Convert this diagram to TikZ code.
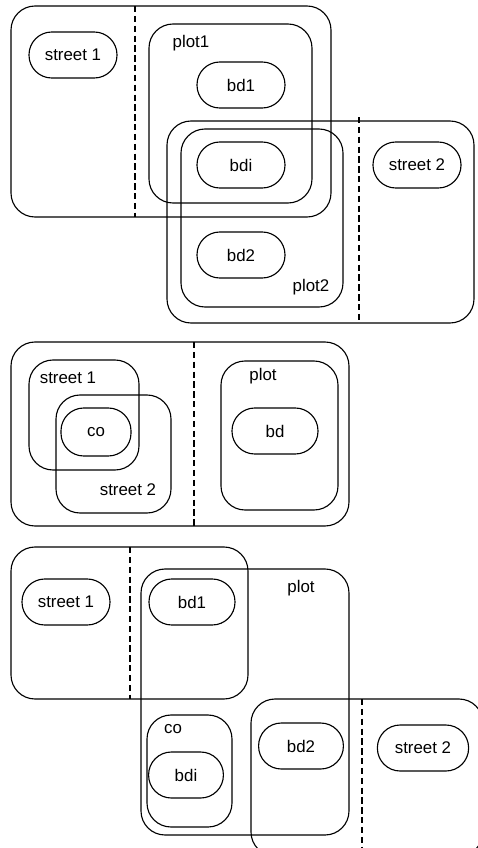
\documentclass[tikz,border=0pt]{standalone}
\usepackage{fontspec}
\setmainfont{Liberation Sans}
\usepackage{tikz}
\usetikzlibrary{positioning}

\tikzset{
  region/.style={line width=0.8pt, rounded corners=0.6cm},
  border/.style={line width=0.8pt, dash pattern=on 4.5pt off 2.5pt},
  pill/.style={draw, line width=0.8pt, rounded corners=0.57cm, minimum width=2.2cm,
    minimum height=1.15cm, inner sep=0pt, font=\fontsize{12}{14}\selectfont},
  tag/.style={inner sep=0pt, font=\fontsize{12}{14}\selectfont}
}

\begin{document}
\begin{tikzpicture}[x=0.025cm, y=-0.025cm]

\clip (0,0) rectangle (478,848);

% Case 1: two plots, shared building
\draw[region] (11,6) rectangle (331,217);
\draw[border] (135,6) -- (135,217);
\draw[region] (149,24) rectangle (312,203);
\node[tag] (plotA) at (191,43) {plot1};
\draw[region] (167,121) rectangle (474,323);
\draw[border] (359,117) -- (359,323);
\draw[region] (181,129) rectangle (343,307);
\node[tag] (plotB) at (311,287) {plot2};

\node[pill] (streetA) at (73,55) {street 1};
\node[pill] (bdA) at (241,85) {bd1};
\node[pill] (bdI) at (241,165) {bdi};
\node[pill] (bdB) at (241,255) {bd2};
\node[pill] (streetB) at (417,165) {street 2};

% Case 2: corner between two streets
\draw[region] (11,342) rectangle (349,526);
\draw[border] (194,342) -- (194,526);
\draw[region] (29,360) rectangle (139,470);
\node[tag] (streetC) at (68,378) {street 1};
\draw[region] (56,395) rectangle (171,513);
\node[tag] (streetD) at (128,490) {street 2};
\draw[region] (221,361) rectangle (338,510);
\node[tag] (plotC) at (263,376) {plot};

\node[pill, minimum width=1.75cm, minimum height=1.2cm] (corner) at (96,432) {co};
\node[pill, minimum width=2.15cm] (bdC) at (275,431) {bd};

% Case 3: plot across both streets
\draw[region] (11,547) rectangle (248,699);
\draw[border] (130,547) -- (130,699);
\draw[region] (141,569) rectangle (349,835);
\node[tag] (plotD) at (301,588) {plot};
\draw[region] (147,715) rectangle (232,827);
\node[tag] (cornerB) at (173,729) {co};
\draw[region] (251,699) rectangle (483,856);
\draw[border] (362,699) -- (362,856);

\node[pill] (streetE) at (66,602) {street 1};
\node[pill, minimum width=2.15cm] (bdD) at (192,602) {bd1};
\node[pill, minimum width=1.87cm] (bdJ) at (186,775) {bdi};
\node[pill, minimum width=2.12cm] (bdE) at (301,746) {bd2};
\node[pill, minimum width=2.28cm] (streetF) at (423,748) {street 2};

\end{tikzpicture}
\end{document}
